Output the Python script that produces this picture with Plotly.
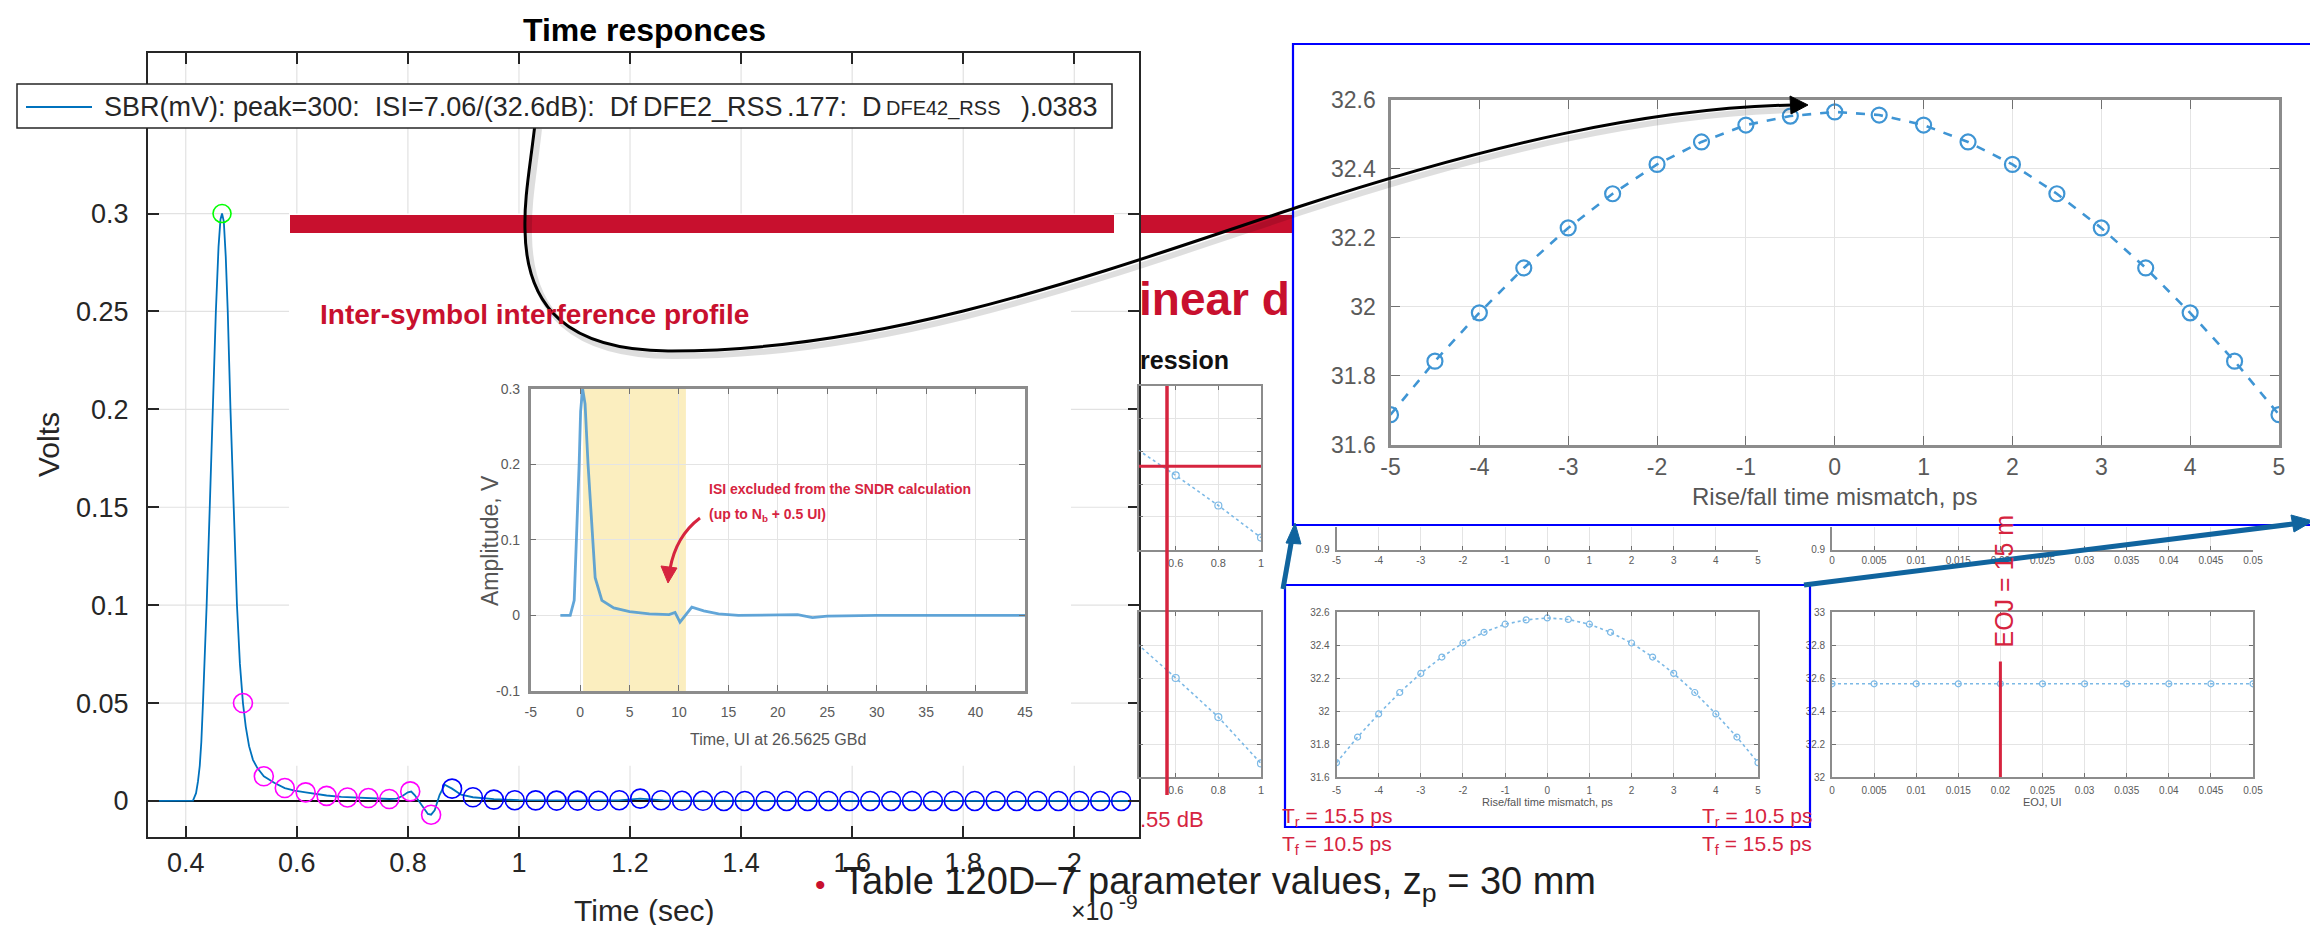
import plotly.graph_objects as go

W, H = 2318, 925

# ---------------- main SBR data (time in ns, amplitude in V) ----------------
sbr_t = [0.332, 0.405, 0.413, 0.4185, 0.422, 0.4252, 0.428, 0.431, 0.434, 0.4376,
         0.4432, 0.4481, 0.4542, 0.4590, 0.4625, 0.4653, 0.4685, 0.4720, 0.4756, 0.4805,
         0.4866, 0.4922, 0.4975, 0.5030, 0.5080, 0.5140, 0.5210, 0.5290, 0.5406, 0.5600,
         0.5783, 0.5960, 0.6159, 0.6320, 0.6536, 0.6800, 0.7050, 0.7400, 0.7665, 0.7800,
         0.7900, 0.8000, 0.8060, 0.8122, 0.8237, 0.8360, 0.8418, 0.8482, 0.8570, 0.8662,
         0.8795, 0.8957, 0.9171, 0.9548, 1.0000, 1.1000, 1.1800, 1.2183, 1.2600, 1.4000,
         1.8000, 2.1165]
sbr_v = [0.0, 0.0, 0.0002, 0.004, 0.010, 0.018, 0.030, 0.050, 0.070, 0.100,
         0.150, 0.200, 0.250, 0.283, 0.297, 0.300, 0.296, 0.278, 0.250, 0.200,
         0.150, 0.100, 0.070, 0.050, 0.038, 0.028, 0.021, 0.0168, 0.0126, 0.0092,
         0.0066, 0.0053, 0.0044, 0.0037, 0.0028, 0.0021, 0.0017, 0.0013, 0.0010, 0.0012,
         0.0025, 0.0044, 0.0048, 0.0030, -0.0019, -0.0066, -0.0070, -0.0048, 0.0030, 0.0083,
         0.0063, 0.0032, 0.0019, 0.0009, 0.0004, 0.0002, 0.0003, 0.0012, 0.0003, 0.0001,
         0.0, 0.0]

peak_t = [0.4653]
peak_v = [0.300]

precursor_t = [0.5030, 0.5406, 0.5783, 0.6159, 0.6536, 0.6912, 0.7289, 0.7665, 0.8042, 0.8418]
precursor_v = [0.0500, 0.0126, 0.0066, 0.0044, 0.0026, 0.0018, 0.0015, 0.0010, 0.0049, -0.0070]

dfe_t = [0.8795, 0.9171, 0.9548, 0.9924, 1.0301, 1.0677, 1.1054, 1.1430, 1.1807, 1.2183,
         1.2560, 1.2936, 1.3313, 1.3689, 1.4066, 1.4442, 1.4819, 1.5195, 1.5572, 1.5948,
         1.6325, 1.6701, 1.7078, 1.7454, 1.7831, 1.8207, 1.8584, 1.8960, 1.9337, 1.9713,
         2.0090, 2.0466, 2.0843]
dfe_v = [0.0063, 0.0019, 0.0007, 0.0004, 0.0003, 0.0002, 0.0002, 0.0001, 0.0004, 0.0012,
         0.0004, 0.0001, 0.0001, 0.0, 0.0, 0.0, 0.0, 0.0, 0.0, 0.0,
         0.0, 0.0, 0.0, 0.0, 0.0, 0.0, 0.0, 0.0, 0.0, 0.0,
         0.0, 0.0, 0.0]

main_xticks = [0.4, 0.6, 0.8, 1.0, 1.2, 1.4, 1.6, 1.8, 2.0]
main_xticktext = ["0.4", "0.6", "0.8", "1", "1.2", "1.4", "1.6", "1.8", "2"]
main_yticks = [0, 0.05, 0.1, 0.15, 0.2, 0.25, 0.3]
main_yticktext = ["0", "0.05", "0.1", "0.15", "0.2", "0.25", "0.3"]

# ---------------- slide inset: ISI profile (UI, V) ----------------
ui_t = [-2, -1.0, -0.6, -0.35, -0.1, 0.05, 0.25, 0.5, 0.8, 1.28, 1.52, 2.2, 3.4, 5, 7, 9,
        9.6, 10.1, 10.6, 11.3, 12.5, 14, 16, 20, 22, 23.5, 25, 30, 35, 45]
ui_v = [0, 0.0, 0.02, 0.1, 0.2, 0.27, 0.3, 0.28, 0.2, 0.1, 0.05, 0.02, 0.01, 0.005, 0.002, 0.001,
        0.004, -0.009, 0.0, 0.011, 0.006, 0.002, 0.0, 0.0, 0.001, -0.003, -0.001, 0.0, 0.0, 0.0]
band_lo, band_hi = 0.3, 10.7

# ---------------- rise/fall mismatch sweep ----------------
rf_x = [-5, -4.5, -4, -3.5, -3, -2.5, -2, -1.5, -1, -0.5, 0, 0.5, 1, 1.5, 2, 2.5, 3, 3.5, 4, 4.5, 5]
rf_v = [31.687, 31.842, 31.982, 32.112, 32.228, 32.327, 32.412, 32.477, 32.526, 32.552, 32.564,
        32.555, 32.526, 32.477, 32.412, 32.327, 32.228, 32.112, 31.982, 31.842, 31.687]

# ---------------- EOJ sweep ----------------
eoj_x = [0, 0.005, 0.01, 0.015, 0.02, 0.025, 0.03, 0.035, 0.04, 0.045, 0.05]
eoj_v = [32.565, 32.565, 32.565, 32.565, 32.565, 32.565, 32.565, 32.565, 32.565, 32.565, 32.565]
eoj_mark, eoj_mark_top = 0.02, 32.70

# ---------------- partial regression panels ----------------
reg_x = [0.4, 0.6, 0.8, 1.0]
reg1_v = [0.63, 0.454, 0.27, 0.074]
reg2_v = [0.83, 0.60, 0.363, 0.082]
reg1_hline = 0.51

# ---------------- helpers ----------------
SANS = "Liberation Sans, Arial, Helvetica, sans-serif"
RED = "#c8102e"
SLIDE_RED = "#d6243f"


def xd(a, b):
    return [a / W, b / W]


def yd(top, bot):
    return [1 - bot / H, 1 - top / H]


def P(x, y):
    return f"{x / W:.5f},{1 - y / H:.5f}"


annotations = []
shapes = []


def txt(s, x, y, size, color="#262626", family=SANS, xanchor="left", yanchor="middle",
        angle=0, bg=None):
    d = dict(text=s, x=x / W, y=1 - y / H, xref="paper", yref="paper", showarrow=False,
             xanchor=xanchor, yanchor=yanchor, textangle=angle,
             font=dict(family=family, size=size, color=color), borderpad=0)
    if bg:
        d["bgcolor"] = bg
    annotations.append(d)


def prect(x0, y0, x1, y1, fill="rgba(0,0,0,0)", lc=None, lw=0, layer="above"):
    shapes.append(dict(type="rect", xref="paper", yref="paper", x0=x0 / W, x1=x1 / W,
                       y0=1 - y1 / H, y1=1 - y0 / H, fillcolor=fill, layer=layer,
                       line=dict(color=lc or "rgba(0,0,0,0)", width=lw)))


def pline(x0, y0, x1, y1, color, width, layer="above"):
    shapes.append(dict(type="line", xref="paper", yref="paper", x0=x0 / W, x1=x1 / W,
                       y0=1 - y0 / H, y1=1 - y1 / H, layer=layer,
                       line=dict(color=color, width=width)))


def ppath(path, color, width, fill=None, layer="above"):
    d = dict(type="path", xref="paper", yref="paper", path=path, layer=layer,
             line=dict(color=color, width=width))
    if fill:
        d["fillcolor"] = fill
    shapes.append(d)


def slide_axis(domain, rng, tickvals, ticktext, anchor, size, lc="#8c8c8c", lw=2.5,
               grid=True, mirror="ticks", showticklabels=True, standoff=6, ticklen=6,
               showline=True):
    d = dict(domain=domain, range=rng, tickvals=tickvals, anchor=anchor,
             showgrid=grid, gridcolor="#e4e4e4", gridwidth=1.2, zeroline=False,
             showline=showline, linecolor=lc, linewidth=lw, mirror=mirror,
             ticks="inside", ticklen=ticklen, tickwidth=1.2, tickcolor="#707070",
             showticklabels=showticklabels, automargin=False,
             tickfont=dict(family=SANS, size=size, color="#5a5a5a"),
             ticklabelstandoff=standoff)
    if ticktext is not None:
        d["ticktext"] = ticktext
    return d


fig = go.Figure()

# ---------------- main axes traces ----------------
fig.add_trace(go.Scatter(x=sbr_t, y=sbr_v, mode="lines", line=dict(color="#0072BD", width=1.8),
                         xaxis="x", yaxis="y", hoverinfo="skip"))
fig.add_trace(go.Scatter(x=peak_t, y=peak_v, mode="markers", xaxis="x", yaxis="y",
                         marker=dict(symbol="circle-open", size=18, color="#00ff00",
                                     line=dict(width=1.6, color="#00ff00"))))
fig.add_trace(go.Scatter(x=precursor_t, y=precursor_v, mode="markers", xaxis="x", yaxis="y",
                         marker=dict(symbol="circle-open", size=19, color="#ff00ff",
                                     line=dict(width=1.6, color="#ff00ff"))))
fig.add_trace(go.Scatter(x=dfe_t, y=dfe_v, mode="markers", xaxis="x", yaxis="y",
                         marker=dict(symbol="circle-open", size=19, color="#0000ff",
                                     line=dict(width=1.6, color="#0000ff"))))

# main grid (partially hidden by the pasted slide picture)
XMIN, XMAX, YMIN, YMAX = 0.332, 2.1165, -0.0184, 0.382
SLIDE_T0, SLIDE_T1, SLIDE_T1B, SLIDE_V0, SLIDE_V1 = 0.586, 1.994, 2.071, 0.018, 0.300
GRID = dict(color="#e2e2e2", width=1.2)
for t in main_xticks:
    segs = [(YMIN, YMAX)] if t < SLIDE_T0 else [(YMIN, SLIDE_V0), (SLIDE_V1, YMAX)]
    for a, b in segs:
        shapes.append(dict(type="line", xref="x", yref="y", x0=t, x1=t, y0=a, y1=b,
                           layer="below", line=GRID))
for v in main_yticks[1:]:
    right = SLIDE_T1B if v >= 0.3 else SLIDE_T1
    for a, b in [(XMIN, SLIDE_T0), (right, XMAX)]:
        shapes.append(dict(type="line", xref="x", yref="y", x0=a, x1=b, y0=v, y1=v,
                           layer="below", line=GRID))

# ---------------- ISI inset traces ----------------
fig.add_trace(go.Scatter(x=ui_t, y=ui_v, mode="lines", xaxis="x2", yaxis="y2",
                         line=dict(color="rgba(70,150,210,0.85)", width=2.8)))
shapes.append(dict(type="rect", xref="x2", yref="y2", x0=band_lo, x1=band_hi, y0=-0.1, y1=0.3,
                   layer="below", fillcolor="#fbeebf", line=dict(width=0)))

# ---------------- rise/fall big chart ----------------
fig.add_trace(go.Scatter(x=rf_x, y=rf_v, mode="lines+markers", xaxis="x3", yaxis="y3",
                         line=dict(color="#3f95d4", width=2.6, dash="dash"),
                         marker=dict(symbol="circle-open", size=15, color="#3f95d4",
                                     line=dict(width=2.2, color="#3f95d4"))))
# small rise/fall chart
fig.add_trace(go.Scatter(x=rf_x, y=rf_v, mode="lines+markers", xaxis="x4", yaxis="y4",
                         line=dict(color="#7cb9e6", width=1.6, dash="dot"),
                         marker=dict(symbol="circle-open", size=6, color="#7cb9e6",
                                     line=dict(width=1.2, color="#7cb9e6"))))
# EOJ chart
fig.add_trace(go.Scatter(x=eoj_x, y=eoj_v, mode="lines+markers", xaxis="x5", yaxis="y5",
                         line=dict(color="#7cb9e6", width=1.6, dash="dot"),
                         marker=dict(symbol="circle-open", size=6, color="#7cb9e6",
                                     line=dict(width=1.2, color="#7cb9e6"))))
shapes.append(dict(type="line", xref="x5", yref="y5", x0=eoj_mark, x1=eoj_mark, y0=32.0,
                   y1=eoj_mark_top, layer="above", line=dict(color=SLIDE_RED, width=3)))
# empty traces so the strip subplots (panels hidden behind the zoom box) get drawn
fig.add_trace(go.Scatter(x=[], y=[], xaxis="x6", yaxis="y6", mode="lines"))
fig.add_trace(go.Scatter(x=[], y=[], xaxis="x7", yaxis="y7", mode="lines"))
# partial regression panels
for xa, ya, vals in (("x8", "y8", reg1_v), ("x9", "y9", reg2_v)):
    fig.add_trace(go.Scatter(x=reg_x, y=vals, mode="lines+markers", xaxis=xa, yaxis=ya,
                             line=dict(color="#7cb9e6", width=1.6, dash="dot"),
                             marker=dict(symbol="circle-open", size=7, color="#7cb9e6",
                                         line=dict(width=1.2, color="#7cb9e6"))))
shapes.append(dict(type="line", xref="x8", yref="y8", x0=0.428, x1=1.0, y0=reg1_hline,
                   y1=reg1_hline, layer="above", line=dict(color=SLIDE_RED, width=3)))

# ---------------- axes ----------------
layout_axes = {}
layout_axes["xaxis"] = dict(domain=xd(140, 1131), range=[XMIN, XMAX], anchor="y",
                            tickvals=main_xticks, ticktext=main_xticktext, showgrid=False,
                            zeroline=False, showline=True, mirror="ticks", linecolor="#262626",
                            linewidth=2, ticks="inside", ticklen=11, tickwidth=1.6,
                            tickcolor="#262626", automargin=False, ticklabelstandoff=1,
                            tickfont=dict(family=SANS, size=27, color="#262626"))
layout_axes["yaxis"] = dict(domain=yd(45, 829), range=[YMIN, YMAX], anchor="x",
                            tickvals=main_yticks, ticktext=main_yticktext, showgrid=False,
                            zeroline=True, zerolinecolor="#111111", zerolinewidth=1.6,
                            showline=True, mirror="ticks", linecolor="#262626", linewidth=2,
                            ticks="inside", ticklen=11, tickwidth=1.6, tickcolor="#262626",
                            automargin=False, ticklabelstandoff=12,
                            tickfont=dict(family=SANS, size=27, color="#262626"))

isi_xt = [-5, 0, 5, 10, 15, 20, 25, 30, 35, 40, 45]
layout_axes["xaxis2"] = slide_axis(xd(522.7, 1017), [-5, 45], isi_xt, [str(v) for v in isi_xt],
                                   "y2", 14, standoff=6)
layout_axes["yaxis2"] = slide_axis(yd(380.7, 683), [-0.1, 0.3], [-0.1, 0, 0.1, 0.2, 0.3],
                                   ["-0.1", "0", "0.1", "0.2", "0.3"], "x2", 14, standoff=5)

rf_xt = [-5, -4, -3, -2, -1, 0, 1, 2, 3, 4, 5]
rf_yt = [31.6, 31.8, 32.0, 32.2, 32.4, 32.6]
rf_ytt = ["31.6", "31.8", "32", "32.2", "32.4", "32.6"]
layout_axes["xaxis3"] = slide_axis(xd(1382.5, 2271), [-5, 5], rf_xt, [str(v) for v in rf_xt],
                                   "y3", 23, lw=3.2, standoff=0, ticklen=9)
layout_axes["yaxis3"] = slide_axis(yd(91.5, 436.7), [31.6, 32.6], rf_yt, rf_ytt, "x3", 23,
                                   lw=3.2, standoff=7, ticklen=9)

layout_axes["xaxis4"] = slide_axis(xd(1328.5, 1750), [-5, 5], rf_xt, [str(v) for v in rf_xt],
                                   "y4", 10, lw=1.6, standoff=3, ticklen=4)
layout_axes["yaxis4"] = slide_axis(yd(604, 769), [31.6, 32.6], rf_yt, rf_ytt, "x4", 10,
                                   lw=1.6, standoff=3, ticklen=4)

eoj_tt = ["0", "0.005", "0.01", "0.015", "0.02", "0.025", "0.03", "0.035", "0.04", "0.045", "0.05"]
layout_axes["xaxis5"] = slide_axis(xd(1824, 2245), [0, 0.05], eoj_x, eoj_tt, "y5", 10,
                                   lw=1.6, standoff=3, ticklen=4)
layout_axes["yaxis5"] = slide_axis(yd(604, 769), [32, 33], [32, 32.2, 32.4, 32.6, 32.8, 33],
                                   ["32", "32.2", "32.4", "32.6", "32.8", "33"], "x5", 10,
                                   lw=1.6, standoff=3, ticklen=4)

# strips: bottoms of the panels hidden behind the zoom box
layout_axes["xaxis6"] = slide_axis(xd(1328.5, 1750), [-5, 5], rf_xt, [str(v) for v in rf_xt],
                                   "y6", 10, lw=1.6, standoff=0, ticklen=4, mirror=False)
layout_axes["yaxis6"] = slide_axis(yd(519, 541.7), [0.9, 0.95], [0.9], ["0.9"], "x6", 10,
                                   lw=1.6, standoff=3, ticklen=4, mirror=False, grid=False)
layout_axes["xaxis7"] = slide_axis(xd(1824, 2245), [0, 0.05], eoj_x, eoj_tt, "y7", 10,
                                   lw=1.6, standoff=0, ticklen=4, mirror=False)
layout_axes["yaxis7"] = slide_axis(yd(519, 541.7), [0.9, 0.95], [0.9], ["0.9"], "x7", 10,
                                   lw=1.6, standoff=3, ticklen=4, mirror=False, grid=False)

reg_yt = [0.2, 0.4, 0.6, 0.8]
layout_axes["xaxis8"] = slide_axis(xd(1131, 1253), [0.428, 1.0], [0.6, 0.8, 1.0],
                                   ["0.6", "0.8", "1"], "y8", 11, lw=1.6, standoff=2, ticklen=4)
layout_axes["yaxis8"] = slide_axis(yd(378, 541.7), [0, 1], reg_yt, None, "x8", 11,
                                   lw=1.6, ticklen=4, showticklabels=False)
layout_axes["xaxis9"] = slide_axis(xd(1131, 1253), [0.428, 1.0], [0.6, 0.8, 1.0],
                                   ["0.6", "0.8", "1"], "y9", 11, lw=1.6, standoff=2, ticklen=4)
layout_axes["yaxis9"] = slide_axis(yd(604, 769), [0, 1], reg_yt, None, "x9", 11,
                                   lw=1.6, ticklen=4, showticklabels=False)

# ---------------- slide decorations ----------------
prect(282, 207, 1106, 225, fill=RED, layer="below")
prect(1131, 207, 1285, 225, fill=RED, layer="below")
txt("<b>Inter-symbol interference profile</b>", 311, 307, 28, color=RED)
txt("<b>inear d</b>", 1130, 291, 46, color=RED)
txt("<b>ression</b>", 1131, 352, 25, color="#111111")

# ISI inset labels
txt("Time, UI at 26.5625 GBd", 770, 731, 16, color="#555555", xanchor="center")
txt("Amplitude, V", 482, 533, 23, color="#555555", xanchor="center", angle=-90)
txt("<b>ISI excluded from the SNDR calculation</b>", 700, 481, 14, color=SLIDE_RED)
txt("<b>(up to N<sub>b</sub> + 0.5 UI)</b>", 700, 507, 14, color=SLIDE_RED)
ppath("M" + P(692, 510) + " Q" + P(668, 528) + " " + P(662, 561), SLIDE_RED, 3)
ppath("M" + P(660, 575) + " L" + P(653, 558) + " L" + P(669, 560) + " Z", SLIDE_RED, 1,
      fill=SLIDE_RED)

# rise/fall big chart label
txt("Rise/fall time mismatch, ps", 1826, 488, 24, color="#555555", xanchor="center")
# small charts labels
txt("Rise/fall time mismatch, ps", 1539, 794, 11, color="#555555", xanchor="center")
txt("EOJ, UI", 2035, 794, 11, color="#555555", xanchor="center")
txt("EOJ = 15 m", 1995, 641, 25, color=SLIDE_RED, xanchor="center", yanchor="bottom", angle=-90)

# red vertical line in regression panels
pline(1159, 378, 1159, 787, SLIDE_RED, 3.5)
txt(".55 dB", 1131, 811, 22, color=SLIDE_RED)
txt("T<sub>r</sub> = 15.5 ps", 1273, 809, 21, color=SLIDE_RED)
txt("T<sub>f</sub> = 10.5 ps", 1273, 837, 21, color=SLIDE_RED)
txt("T<sub>r</sub> = 10.5 ps", 1693, 809, 21, color=SLIDE_RED)
txt("T<sub>f</sub> = 15.5 ps", 1693, 837, 21, color=SLIDE_RED)

# bullet line at bottom
txt("\u2022", 806, 876, 30, color=RED)
txt("Table 120D\u20137 parameter values, z<sub>p</sub> = 30 mm", 834, 876, 38, color="#1e1e1e")

# zoom boxes (blue)
prect(1285, 36, 2306, 517, lc="#0000ff", lw=2.2)
prect(1277, 577, 1802, 819, lc="#0000ff", lw=2.2)

# blue arrows
BLUE_ARROW = "#10649e"
pline(1275, 581, 1284, 530, BLUE_ARROW, 5)
ppath("M" + P(1287, 515) + " L" + P(1278, 535) + " L" + P(1293, 536) + " Z", BLUE_ARROW, 1,
      fill=BLUE_ARROW)
pline(1796, 577, 2285, 516, BLUE_ARROW, 5)
ppath("M" + P(2305, 513) + " L" + P(2283, 507) + " L" + P(2286, 524) + " Z", BLUE_ARROW, 1,
      fill=BLUE_ARROW)

# black curved arrow from the legend to the peak of the sweep (with soft shadow)
arrow_path = ("M" + P(527, 116) + " C" + P(522, 160) + " " + P(516, 190) + " " + P(517, 222) +
              " C" + P(518, 300) + " " + P(560, 342) + " " + P(660, 343) +
              " C" + P(880, 344) + " " + P(1100, 262) + " " + P(1290, 199) +
              " C" + P(1480, 137) + " " + P(1640, 100) + " " + P(1785, 97))
shadow_path = ("M" + P(531, 121) + " C" + P(526, 165) + " " + P(520, 195) + " " + P(521, 227) +
               " C" + P(522, 305) + " " + P(564, 347) + " " + P(664, 348) +
               " C" + P(884, 349) + " " + P(1104, 267) + " " + P(1294, 204) +
               " C" + P(1484, 142) + " " + P(1644, 105) + " " + P(1789, 102))
ppath(shadow_path, "rgba(0,0,0,0.13)", 6)
ppath(arrow_path, "#000000", 3)
ppath("M" + P(1800, 97) + " L" + P(1782, 88) + " L" + P(1783, 106) + " Z", "#000000", 1,
      fill="#000000")

# ---------------- legend (MATLAB style) ----------------
prect(9, 76, 1104, 120, fill="#ffffff", lc="#262626", lw=1.5)
pline(18, 99, 84, 99, "#0072BD", 2)
NB = "\u00a0"
txt("SBR(mV): peak=300:" + NB * 2 + "ISI=7.06/(32.6dB):" + NB * 2 + "Df", 95, 99, 27)
txt("DFE2_RSS", 634, 99, 27, bg="#ffffff")
txt(".177:" + NB * 2 + "D", 778, 99, 27)
txt("DFE42_RSS", 877, 100, 20, bg="#ffffff")
txt(").0383", 1012, 99, 27)

# ---------------- titles / labels of the main axes ----------------
txt("<b>Time responces</b>", 636, 22, 32, color="#000000", xanchor="center")
txt("Volts", 40, 437, 30, color="#262626", xanchor="center", angle=-90)
txt("Time (sec)", 636, 902, 30, color="#262626", xanchor="center")
txt("\u00d710", 1106, 903, 25, color="#262626", xanchor="right")
txt("-9", 1131, 893, 21, color="#262626", xanchor="right")

fig.update_layout(
    width=W, height=H, margin=dict(l=0, r=0, t=0, b=0), template="none",
    paper_bgcolor="#ffffff", plot_bgcolor="#ffffff", showlegend=False,
    font=dict(family=SANS, color="#262626"),
    annotations=annotations, shapes=shapes, **layout_axes)

fig.write_html("out.html")
